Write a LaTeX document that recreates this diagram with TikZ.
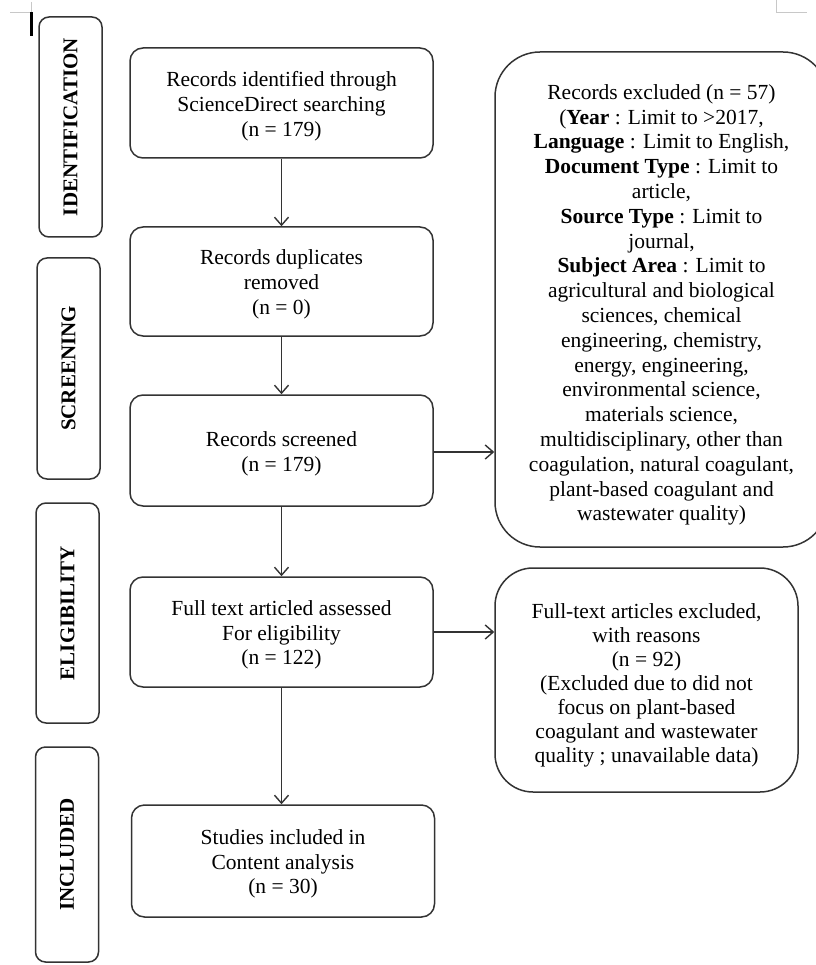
\documentclass[tikz,border=0pt]{standalone}
\usepackage{fontspec}
\usepackage{graphicx}
\setmainfont{Liberation Serif}
\usetikzlibrary{arrows.meta}
\definecolor{linec}{HTML}{333333}
\definecolor{markc}{HTML}{C8C8C8}
\tikzset{
  txt/.style={font=\fontsize{21.5}{24.8}\selectfont, text=black, align=center, inner sep=0pt},
  mainbox/.style={draw=linec, line width=1.5pt, rounded corners=13pt, minimum width=303pt, inner sep=0pt},
  sidebox/.style={draw=linec, line width=1.5pt, rounded corners=10pt, minimum width=63pt, inner sep=0pt, font=\fontsize{21}{24}\selectfont\bfseries},
  bigbox/.style={draw=linec, line width=1.5pt, inner sep=0pt},
  arr/.style={draw=linec, line width=1.4pt, -{Straight Barb[length=8pt,width=14pt,line width=1.4pt]}},
  pagemark/.style={draw=markc, line width=1pt}
}
\begin{document}
\begin{tikzpicture}[x=1pt,y=-1pt]
\useasboundingbox (0,0) rectangle (815,965);
% page marks
\draw[pagemark] (10,13) -- (31,13) (31,2) -- (31,13);
\draw[pagemark] (776,0) -- (776,13) -- (807,13);
\fill[black] (29.5,12) rectangle (32.5,36);
% side boxes
\node[sidebox, minimum height=220pt] (s1) at (70.5,127) {\rotatebox{90}{IDENTIFICATION}};
\node[sidebox, minimum height=221pt] (s2) at (68.5,368.5) {\rotatebox{90}{SCREENING}};
\node[sidebox, minimum height=220pt] (s3) at (67.5,613) {\rotatebox{90}{ELIGIBILITY}};
\node[sidebox, minimum height=215pt] (s4) at (67,854.5) {\rotatebox{90}{INCLUDED}};
% main column
\node[mainbox, minimum height=110pt] (b1) at (281.5,103) {};
\node[txt] (b1t) at ([yshift=-3pt]b1.center) {Records identified through\\ScienceDirect searching\\(n = 179)};
\node[mainbox, minimum height=109pt] (b2) at (281.5,281.5) {};
\node[txt] (b2t) at ([yshift=-3pt]b2.center) {Records duplicates\\removed\\(n = 0)};
\node[mainbox, minimum height=111pt] (b3) at (281.5,450.5) {};
\node[txt] (b3t) at ([yshift=-3pt]b3.center) {Records screened\\(n = 179)};
\node[mainbox, minimum height=110pt] (b4) at (281.5,632) {};
\node[txt] (b4t) at ([yshift=-3pt]b4.center) {Full text articled assessed\\For eligibility\\(n = 122)};
\node[mainbox, minimum height=112pt] (b5) at (283,861) {};
\node[txt] (b5t) at ([yshift=-3pt]b5.center) {Studies included in\\Content analysis\\(n = 30)};
% right boxes
\node[bigbox, rounded corners=45pt, minimum width=333pt, minimum height=495pt] (r1) at (661.5,299.5) {};
\node[txt] (r1t) at ([yshift=-5.5pt]r1.center) {Records excluded (n = 57)\\(\textbf{Year} : Limit to >2017,\\\textbf{Language} : Limit to English,\\\textbf{Document Type} : Limit to\\article,\\\textbf{Source Type} : Limit to\\journal,\\\textbf{Subject Area} : Limit to\\agricultural and biological\\sciences, chemical\\engineering, chemistry,\\energy, engineering,\\environmental science,\\materials science,\\multidisciplinary, other than\\coagulation, natural coagulant,\\plant-based coagulant and\\wastewater quality)};
\node[bigbox, rounded corners=38pt, minimum width=303pt, minimum height=224pt] (r2) at (646.5,680) {};
\node[txt, font=\fontsize{21.5}{24}\selectfont] (r2t) at ([yshift=-5pt]r2.center) {Full-text articles excluded,\\with reasons\\(n = 92)\\(Excluded due to did not\\focus on plant-based\\coagulant and wastewater\\quality ; unavailable data)};
% connectors
\draw[arr] (b1.south) -- (b2.north);
\draw[arr] (b2.south) -- (b3.north);
\draw[arr] (b3.south) -- (b4.north);
\draw[arr] (b4.south) -- (b4.south |- b5.north);
\draw[arr] (b3.east |- 0,452) -- (r1.west |- 0,452);
\draw[arr] (b4.east) -- (b4.east -| r2.west);
\end{tikzpicture}
\end{document}
